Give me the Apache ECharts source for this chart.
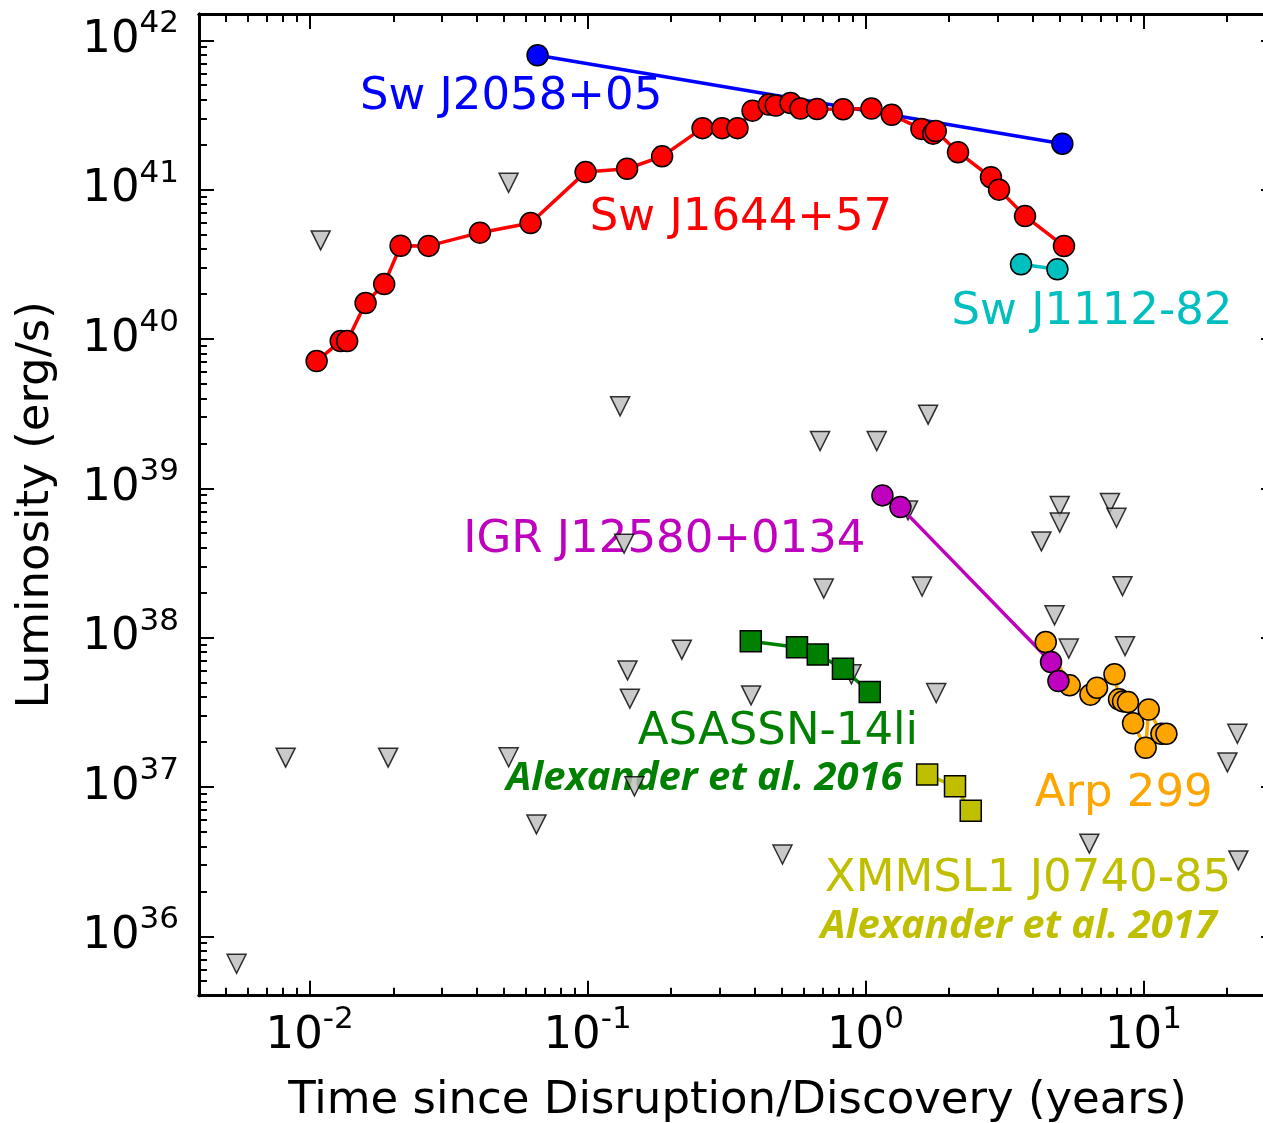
<!DOCTYPE html>
<html><head><meta charset="utf-8">
<script src="https://cdn.jsdelivr.net/npm/echarts@6/dist/echarts.min.js"></script>
<style>html,body{margin:0;padding:0;overflow:hidden;background:#fff}#c{width:1300px;height:1123px}</style>
</head><body><div id="c"></div>
<script>
// ---------------- data (time in years, luminosity in erg/s) ----------------
const swJ2058_t = [0.0661, 5.11];
const swJ2058_L = [7.94e41, 2.03e41];

const swJ1644_t = [0.01060, 0.01294, 0.01365, 0.01590, 0.01855, 0.02125, 0.02680, 0.0410, 0.0624, 0.0984,
  0.1388, 0.1855, 0.2593, 0.3049, 0.3464, 0.3923, 0.4489, 0.4757, 0.5374, 0.5838, 0.6698, 0.8307,
  1.051, 1.243, 1.590, 1.751, 1.790, 2.153, 2.829, 3.024, 3.751, 5.18];
const swJ1644_L = [7.11e39, 9.68e39, 9.68e39, 1.74e40, 2.33e40, 4.21e40, 4.20e40, 5.15e40, 5.97e40, 1.31e41,
  1.38e41, 1.67e41, 2.58e41, 2.58e41, 2.58e41, 3.38e41, 3.71e41, 3.66e41, 3.80e41, 3.49e41, 3.47e41, 3.45e41,
  3.49e41, 3.17e41, 2.55e41, 2.37e41, 2.47e41, 1.78e41, 1.21e41, 1.00e41, 6.65e40, 4.19e40];

const swJ1112_t = [3.628, 4.905];
const swJ1112_L = [3.16e40, 2.93e40];

const igr_t = [1.151, 1.336, 4.652, 4.946];
const igr_L = [8.96e38, 7.48e38, 6.86e37, 5.12e37];

const arp299_t = [4.453, 5.43, 6.45, 6.81, 7.87, 8.17, 8.45, 8.80, 9.18, 10.19, 10.45, 11.61, 12.10];
const arp299_L = [9.34e37, 4.79e37, 4.15e37, 4.62e37, 5.68e37, 3.86e37, 3.74e37, 3.70e37, 2.67e37, 1.83e37, 3.30e37, 2.27e37, 2.27e37];

const asassn_t = [0.3867, 0.5671, 0.6738, 0.8300, 1.036];
const asassn_L = [9.44e37, 8.63e37, 7.71e37, 6.19e37, 4.32e37];

const xmmsl_t = [1.667, 2.100, 2.392];
const xmmsl_L = [1.21e37, 1.01e37, 6.93e36];

const limit_t = [0.01096, 0.0520, 0.1310, 0.6867, 1.098, 1.680, 0.1354, 0.7079, 1.598, 0.2184, 0.1393, 0.1420,
  0.3877, 0.8903, 1.797, 0.0520, 0.1475, 0.0655, 0.5028, 0.00820, 0.01917, 0.00546, 1.423, 4.296, 5.00, 5.00,
  7.58, 8.00, 8.41, 4.79, 5.39, 8.59, 21.78, 20.06, 6.39, 21.97];
const limit_L = [4.57e40, 1.11e41, 3.54e39, 2.07e39, 2.07e39, 3.11e39, 4.26e38, 2.13e38, 2.20e38, 8.30e37, 6.03e37, 3.90e37,
  4.10e37, 5.68e37, 4.25e37, 1.58e37, 1.01e37, 5.61e36, 3.53e36, 1.57e37, 1.57e37, 6.55e35, 7.11e38, 4.41e38, 7.60e38, 5.89e38,
  7.96e38, 6.35e38, 2.21e38, 1.41e38, 8.44e37, 8.77e37, 2.27e37, 1.46e37, 4.17e36, 3.22e36];

// tick labels (major decades)
const xMajor = [0.01, 0.1, 1, 10];
const yMajor = [1e36, 1e37, 1e38, 1e39, 1e40, 1e41, 1e42];

// annotation texts and anchors (data coordinates: left edge, vertical middle)
const noteText = ['Sw J2058+05', 'Sw J1644+57', 'Sw J1112-82', 'IGR J12580+0134', 'ASASSN-14li',
  'Alexander et al. 2016', 'Arp 299', 'XMMSL1 J0740-85', 'Alexander et al. 2017'];
const note_t = [0.01517, 0.1019, 2.039, 0.03568, 0.1517, 0.05098, 4.064, 0.7140, 0.6889];
const note_L = [4.15e41, 6.43e40, 1.51e40, 4.46e38, 2.32e37, 1.14e37, 8.91e36, 2.41e36, 1.16e36];
// ---------------------------------------------------------------------------

const X_MIN = 0.004, X_MAX = 30, Y_MIN = 4e35, Y_MAX = 1.5e42;
const FONT = 'DejaVu Sans';
const noteColor = ['#0000ff', '#ff0000', '#00bfbf', '#bf00bf', '#008000', '#008000', '#ffa500', '#bfbf00', '#bfbf00'];
const noteBold = [false, false, false, false, false, true, false, false, true];

function minors(lo, hi, min, max) {
  const r = [];
  for (let e = lo; e <= hi; e++) for (let m = 2; m <= 9; m++) {
    const v = m * Math.pow(10, e);
    if (v > min * 1.0001 && v < max * 0.9999) r.push(v);
  }
  return r;
}
const xMinor = minors(-3, 1, X_MIN, X_MAX);
const yMinor = minors(35, 42, Y_MIN, Y_MAX);

const rich = {
  b: { fontSize: 45, fontFamily: FONT, color: '#000', lineHeight: 63, verticalAlign: 'middle' },
  s: { fontSize: 31, fontFamily: FONT, color: '#000', lineHeight: 29, verticalAlign: 'top' }
};
const fmt = v => '{b|10}{s|' + Math.round(Math.log10(v)) + '}';

function axis(kind, pos, ticks, len, showLabel, extra) {
  const o = {
    type: 'log', logBase: 10,
    min: kind === 'x' ? X_MIN : Y_MIN,
    max: kind === 'x' ? X_MAX : Y_MAX,
    position: pos,
    axisLine: { show: true, onZero: false, lineStyle: { color: '#000', width: 3 } },
    axisTick: { show: true, inside: true, length: len, customValues: ticks, lineStyle: { color: '#000', width: 2 } },
    axisLabel: showLabel ? { show: true, customValues: ticks, formatter: fmt, rich: rich, margin: kind === 'x' ? 9 : 20 } : { show: false },
    splitLine: { show: false }, minorTick: { show: false }, minorSplitLine: { show: false }
  };
  return Object.assign(o, extra || {});
}

const pairs = (t, L) => t.map((v, i) => [v, L[i]]);

function lineSeries(name, t, L, color, symbol) {
  return {
    name, type: 'line', xAxisIndex: 0, yAxisIndex: 0,
    data: pairs(t, L), symbol: symbol, symbolSize: 21, showAllSymbol: true,
    lineStyle: { color: color, width: 3.5 },
    itemStyle: { color: color, borderColor: '#000', borderWidth: 1.5 },
    emphasis: { disabled: true }, z: 3, clip: false
  };
}

const chart = echarts.init(document.getElementById('c'), null, { renderer: 'canvas' });
chart.setOption({
  animation: false,
  backgroundColor: '#fff',
  grid: { left: 199, top: 14, right: 24, bottom: 127.3, outerBoundsMode: 'none', containLabel: false },
  xAxis: [
    axis('x', 'bottom', xMajor, 15, true, {
      name: 'Time since Disruption/Discovery (years)', nameLocation: 'middle', nameGap: 83,
      nameTextStyle: { fontSize: 45, fontFamily: FONT, color: '#000' }
    }),
    axis('x', 'bottom', xMinor, 8, false),
    axis('x', 'top', xMajor, 15, false),
    axis('x', 'top', xMinor, 8, false)
  ],
  yAxis: [
    axis('y', 'left', yMajor, 15, true, {
      name: 'Luminosity (erg/s)', nameLocation: 'middle', nameGap: 140, nameRotate: 90,
      nameTextStyle: { fontSize: 45, fontFamily: FONT, color: '#000' }
    }),
    axis('y', 'left', yMinor, 8, false),
    axis('y', 'right', yMajor, 15, false),
    axis('y', 'right', yMinor, 8, false)
  ],
  series: [
    {
      name: 'notes', type: 'custom', xAxisIndex: 0, yAxisIndex: 0, z: 1, silent: true, clip: false,
      data: pairs(note_t, note_L),
      renderItem: function (params, api) {
        const i = params.dataIndex;
        const p = api.coord([api.value(0), api.value(1)]);
        const bold = noteBold[i];
        return {
          type: 'text', x: p[0], y: p[1],
          style: {
            text: noteText[i], fill: noteColor[i],
            font: bold ? 'italic bold 40px "Open Sans"' : '45px "' + FONT + '"',
            align: 'left', verticalAlign: 'middle'
          }
        };
      }
    },
    {
      name: 'upper limits', type: 'scatter', xAxisIndex: 0, yAxisIndex: 0,
      data: pairs(limit_t, limit_L), symbol: 'triangle', symbolRotate: 180, symbolSize: 19,
      itemStyle: { color: '#bbbbbb', borderColor: '#000', borderWidth: 1.5 },
      emphasis: { disabled: true }, z: 2, clip: false
    },
    lineSeries('Sw J2058+05', swJ2058_t, swJ2058_L, '#0000ff', 'circle'),
    lineSeries('Sw J1644+57', swJ1644_t, swJ1644_L, '#ff0000', 'circle'),
    lineSeries('Sw J1112-82', swJ1112_t, swJ1112_L, '#00bfbf', 'circle'),
    lineSeries('ASASSN-14li', asassn_t, asassn_L, '#008000', 'rect'),
    lineSeries('XMMSL1 J0740-85', xmmsl_t, xmmsl_L, '#bfbf00', 'rect'),
    lineSeries('Arp 299', arp299_t, arp299_L, '#ffa500', 'circle'),
    lineSeries('IGR J12580+0134', igr_t, igr_L, '#bf00bf', 'circle')
  ]
});
</script>
</body></html>
